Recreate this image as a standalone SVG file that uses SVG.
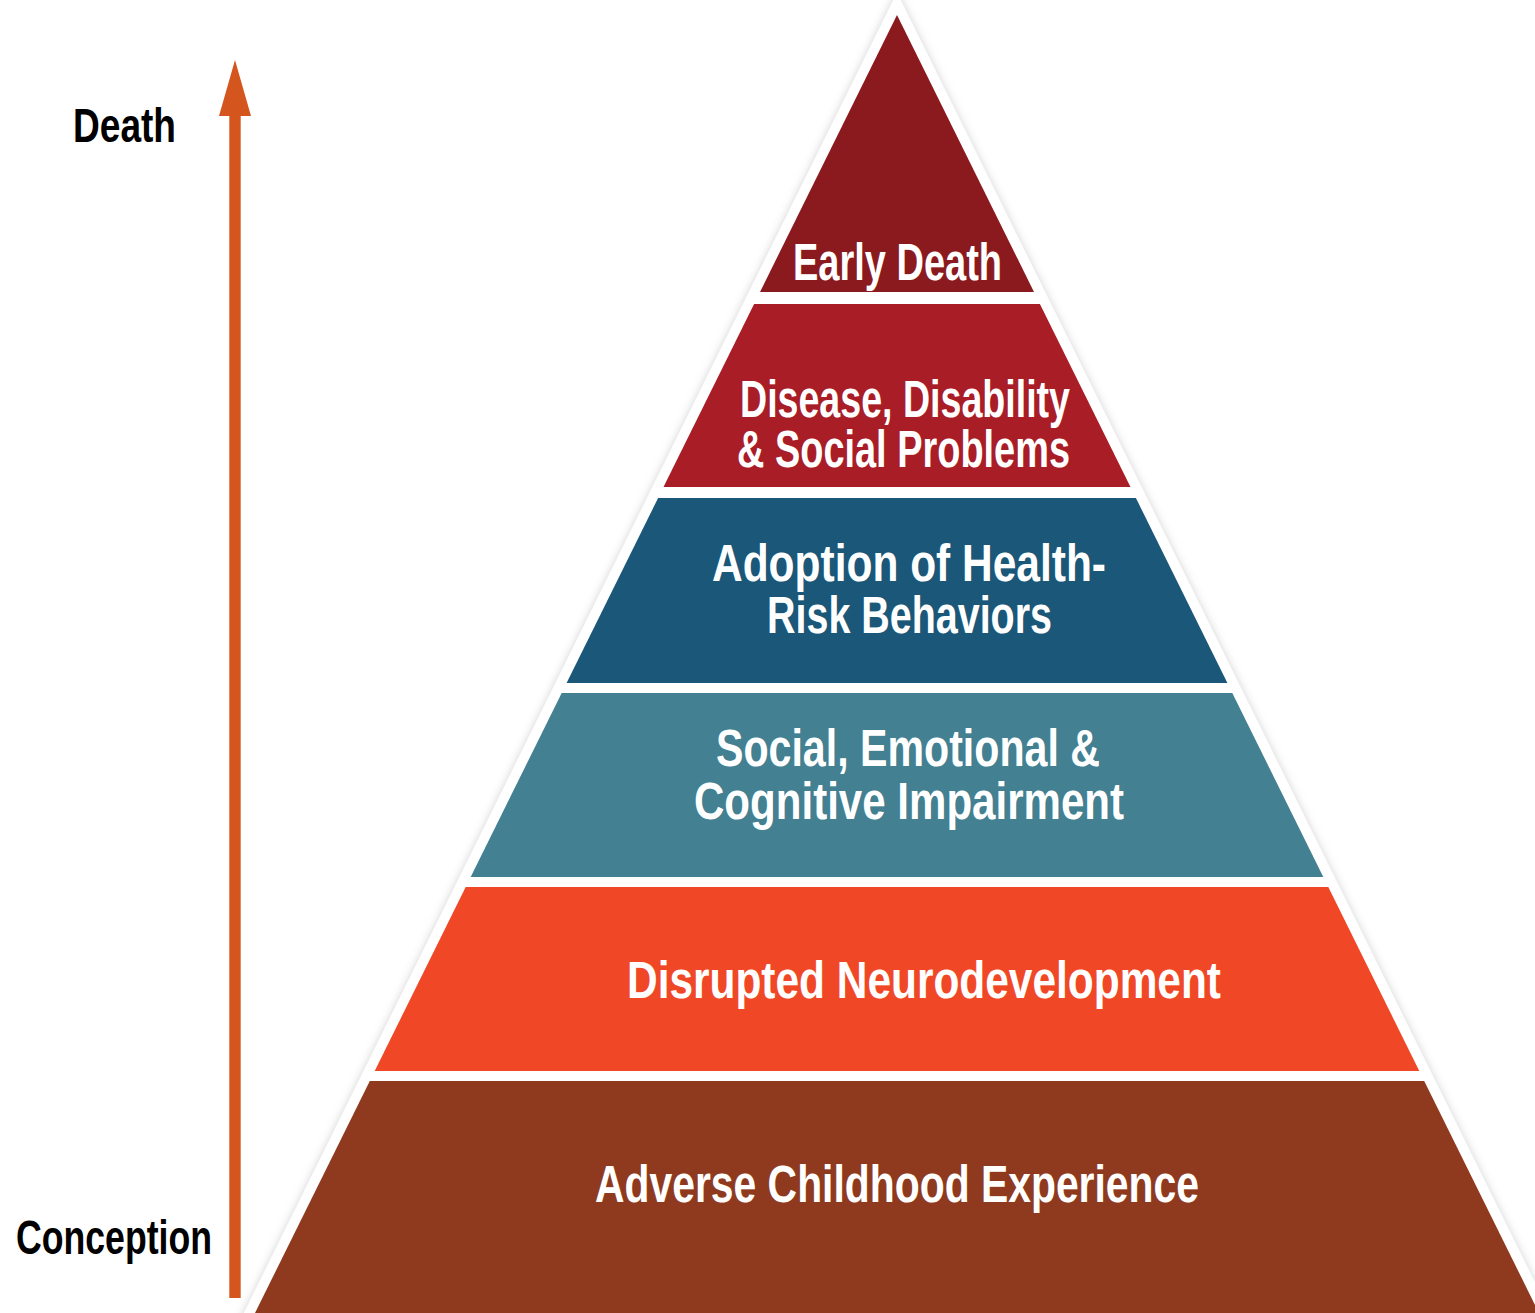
<svg xmlns="http://www.w3.org/2000/svg" width="1535" height="1313" viewBox="0 0 1535 1313">
  <style>
    text { font-family: "Liberation Sans", Arial, sans-serif; font-weight: bold; }
    .lbl { fill: #ffffff; font-size: 51px; }
    .axis { fill: #000000; font-size: 49px; }
  </style>
  <defs>
    <filter id="soft-shadow" x="-10%" y="-10%" width="120%" height="120%">
      <feDropShadow dx="0" dy="0" stdDeviation="4" flood-color="#9a9a9a" flood-opacity="0.45"/>
    </filter>
    <marker id="arrow-head" markerUnits="userSpaceOnUse" viewBox="0 0 56 32" markerWidth="56" markerHeight="32" refX="0" refY="16" orient="auto">
      <path d="M0,0 L56,16 L0,32 Z" fill="#d4561e"/>
    </marker>
  </defs>

  <rect x="0" y="0" width="1535" height="1313" fill="#ffffff"/>

  <!-- white outline behind the pyramid tiers -->
  <polygon points="897,-7.6 1558.6,1330 235.4,1330" fill="#ffffff" filter="url(#soft-shadow)"/>

  <!-- life-course axis -->
  <g id="axis">
    <line x1="235" y1="1298" x2="235" y2="116" stroke="#d4561e" stroke-width="11.4" marker-end="url(#arrow-head)"/>
    <text class="axis" x="73" y="142" textLength="103" lengthAdjust="spacingAndGlyphs">Death</text>
    <text class="axis" x="16" y="1254" textLength="196" lengthAdjust="spacingAndGlyphs">Conception</text>
  </g>

  <g id="tier-early-death">
    <polygon points="897,15 1034,292 760,292" fill="#8b1a1f"/>
    <text class="lbl" x="793" y="280" textLength="209" lengthAdjust="spacingAndGlyphs">Early Death</text>
  </g>

  <g id="tier-disease">
    <polygon points="754.1,304 1039.9,304 1130.5,487 663.5,487" fill="#a91d27"/>
    <text class="lbl" x="740" y="417" textLength="330" lengthAdjust="spacingAndGlyphs">Disease, Disability</text>
    <text class="lbl" x="737" y="467" textLength="333" lengthAdjust="spacingAndGlyphs">&amp; Social Problems</text>
  </g>

  <g id="tier-risk-behaviors">
    <polygon points="658.1,498 1135.9,498 1227.4,683 566.6,683" fill="#1b5779"/>
    <text class="lbl" x="712" y="581" textLength="394" lengthAdjust="spacingAndGlyphs">Adoption of Health-</text>
    <text class="lbl" x="767" y="633" textLength="285" lengthAdjust="spacingAndGlyphs">Risk Behaviors</text>
  </g>

  <g id="tier-impairment">
    <polygon points="561.7,693 1232.3,693 1323.3,877 470.7,877" fill="#428092"/>
    <text class="lbl" x="716" y="766" textLength="384" lengthAdjust="spacingAndGlyphs">Social, Emotional &amp;</text>
    <text class="lbl" x="694" y="819" textLength="430" lengthAdjust="spacingAndGlyphs">Cognitive Impairment</text>
  </g>

  <g id="tier-neurodevelopment">
    <polygon points="465.7,887 1328.3,887 1419.3,1071 374.7,1071" fill="#f04826"/>
    <text class="lbl" x="627" y="998" textLength="594" lengthAdjust="spacingAndGlyphs">Disrupted Neurodevelopment</text>
  </g>

  <g id="tier-ace">
    <polygon points="369.8,1081 1424.2,1081 1539,1313 255,1313" fill="#8f3a1e"/>
    <text class="lbl" x="595" y="1202" textLength="604" lengthAdjust="spacingAndGlyphs">Adverse Childhood Experience</text>
  </g>
</svg>
